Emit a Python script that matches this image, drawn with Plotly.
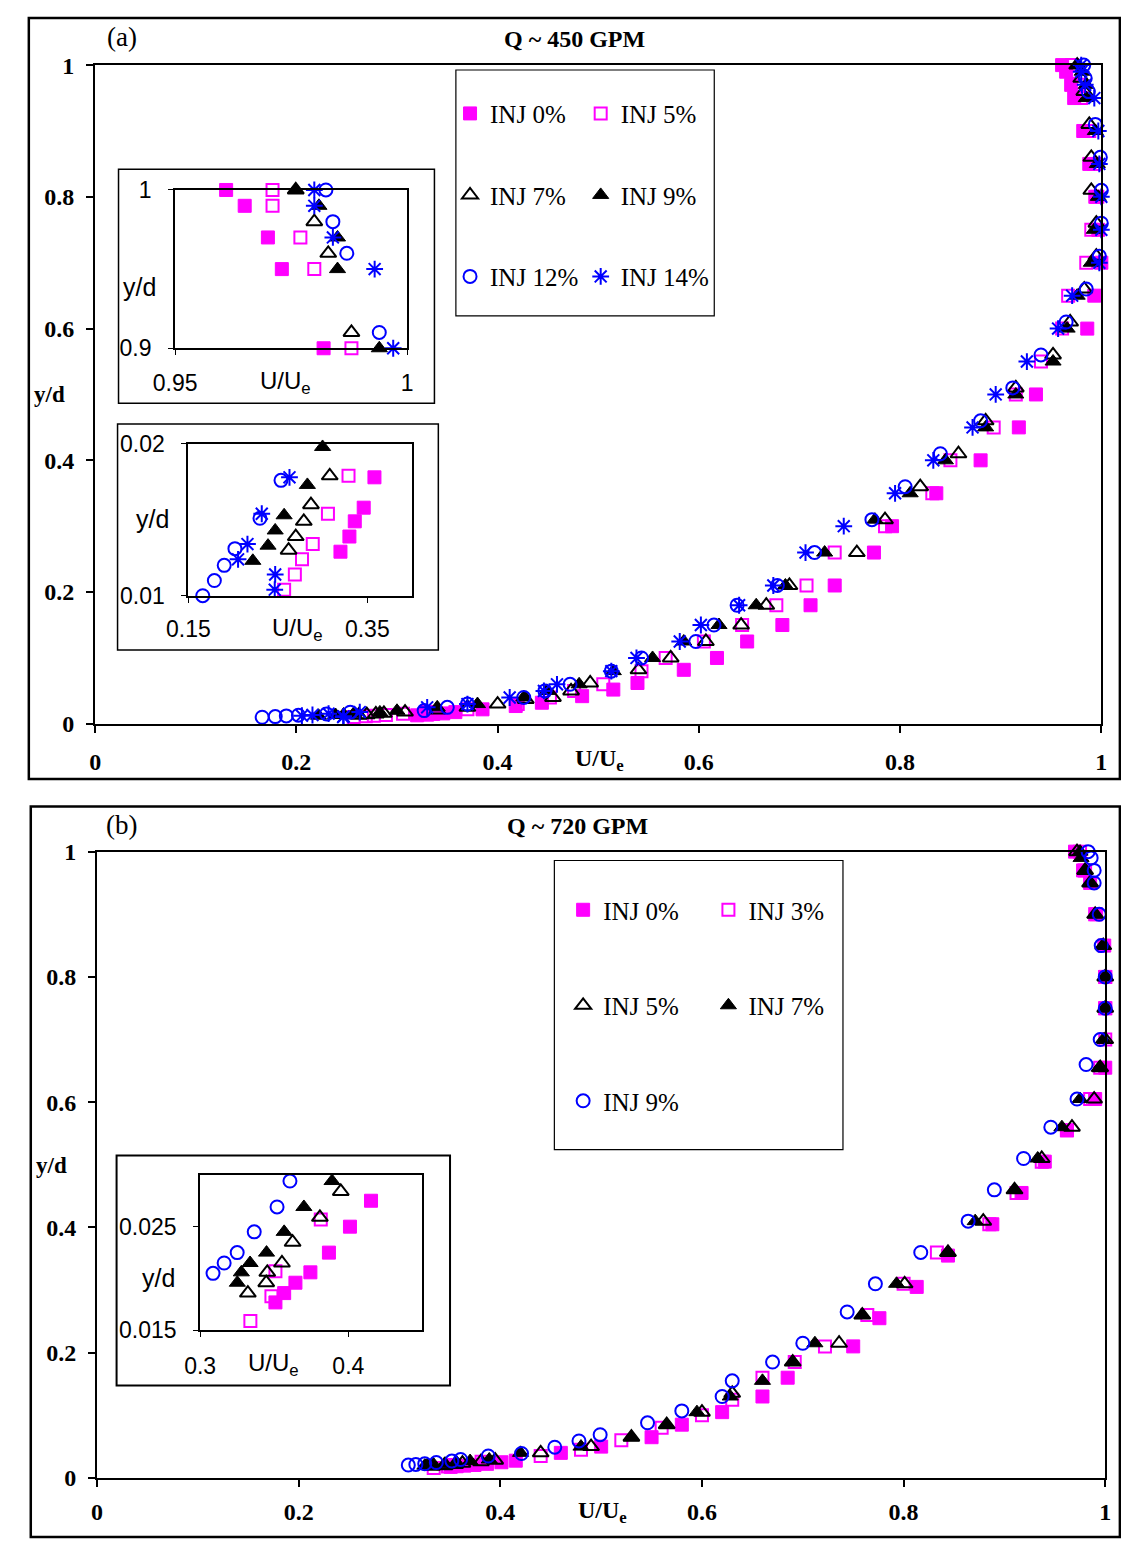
import numpy as np
import plotly.graph_objects as go

W, H = 1121, 1544

# ---------------- Panel (a): Q ~ 450 GPM ----------------
y0a = [1.0, 0.99, 0.97, 0.95, 0.90, 0.85, 0.80, 0.75, 0.70, 0.65, 0.60, 0.50, 0.45, 0.40, 0.35, 0.30,
       0.26, 0.21, 0.18, 0.15, 0.125, 0.10, 0.082, 0.062, 0.052, 0.042, 0.032, 0.027, 0.022,
       0.0178, 0.0158, 0.0149, 0.0139, 0.0129]
u0a = [0.961, 0.965, 0.970, 0.973, 0.982, 0.988, 0.994, 0.997, 1.0, 0.993, 0.986, 0.935, 0.918, 0.880, 0.836, 0.792,
       0.774, 0.735, 0.711, 0.683, 0.648, 0.618, 0.585, 0.539, 0.515, 0.484, 0.444, 0.418, 0.385,
       0.358, 0.346, 0.336, 0.330, 0.320]

y5a = [1.0, 0.99, 0.97, 0.95, 0.90, 0.85, 0.80, 0.75, 0.70, 0.65, 0.60, 0.55, 0.50, 0.45, 0.40, 0.35, 0.30,
       0.26, 0.21, 0.18, 0.15, 0.125, 0.10, 0.08, 0.06, 0.05, 0.04, 0.03, 0.022,
       0.0179, 0.0154, 0.0134, 0.0124, 0.0114, 0.0104]
u5a = [0.971, 0.971, 0.977, 0.980, 0.988, 0.993, 0.996, 0.990, 0.985, 0.967, 0.961, 0.940, 0.915, 0.893, 0.850, 0.832, 0.785,
       0.735, 0.707, 0.677, 0.643, 0.605, 0.567, 0.543, 0.505, 0.476, 0.452, 0.420, 0.370,
       0.329, 0.306, 0.289, 0.277, 0.269, 0.257]

y7a = [1.0, 0.98, 0.96, 0.91, 0.86, 0.81, 0.76, 0.71, 0.66, 0.61, 0.56, 0.51, 0.46, 0.41, 0.36, 0.31,
       0.26, 0.21, 0.18, 0.15, 0.125, 0.10, 0.082, 0.062, 0.05, 0.04, 0.037, 0.03, 0.025, 0.021,
       0.0179, 0.016, 0.0149, 0.0139, 0.013]
u7a = [0.976, 0.980, 0.983, 0.988, 0.990, 0.990, 0.995, 0.995, 0.983, 0.969, 0.952, 0.915, 0.885, 0.858, 0.820, 0.785,
       0.757, 0.690, 0.667, 0.642, 0.607, 0.572, 0.540, 0.492, 0.473, 0.455, 0.428, 0.400, 0.370, 0.340,
       0.308, 0.287, 0.279, 0.270, 0.262]

y9a = [1.0, 0.99, 0.97, 0.95, 0.90, 0.85, 0.80, 0.75, 0.70, 0.65, 0.60, 0.55, 0.50, 0.45, 0.40, 0.35, 0.31,
       0.26, 0.21, 0.18, 0.15, 0.125, 0.10, 0.08, 0.06, 0.05, 0.04, 0.03, 0.025,
       0.0198, 0.0173, 0.0153, 0.0143, 0.0133, 0.0123]
u9a = [0.976, 0.981, 0.985, 0.985, 0.994, 0.996, 0.997, 0.993, 0.990, 0.976, 0.966, 0.952, 0.915, 0.885, 0.845, 0.810, 0.775,
       0.725, 0.686, 0.657, 0.620, 0.585, 0.554, 0.515, 0.481, 0.449, 0.426, 0.380, 0.340,
       0.300, 0.283, 0.257, 0.247, 0.239, 0.222]

y12a = [1.0, 0.98, 0.96, 0.91, 0.86, 0.81, 0.76, 0.71, 0.66, 0.61, 0.56, 0.51, 0.46, 0.41, 0.36, 0.31,
        0.26, 0.21, 0.18, 0.15, 0.125, 0.10, 0.08, 0.06, 0.05, 0.04, 0.03, 0.025,
        0.0201, 0.0176, 0.0151, 0.0131, 0.012, 0.011, 0.010]
u12a = [0.9825, 0.984, 0.987, 0.994, 0.999, 1.0, 1.0, 0.998, 0.985, 0.965, 0.940, 0.912, 0.880, 0.840, 0.805, 0.772,
        0.715, 0.678, 0.638, 0.615, 0.597, 0.543, 0.513, 0.472, 0.447, 0.426, 0.370, 0.350,
        0.327, 0.2535, 0.230, 0.202, 0.190, 0.179, 0.166]

y14a = [1.0, 0.99, 0.97, 0.95, 0.90, 0.85, 0.80, 0.75, 0.70, 0.65, 0.60, 0.55, 0.50, 0.45, 0.40, 0.35, 0.30,
        0.26, 0.21, 0.18, 0.15, 0.125, 0.10, 0.08, 0.06, 0.05, 0.04, 0.03, 0.025,
        0.0178, 0.0154, 0.0134, 0.0124, 0.0114, 0.0104]
u14a = [0.980, 0.980, 0.984, 0.993, 0.997, 0.998, 1.0, 1.0, 0.998, 0.971, 0.957, 0.926, 0.895, 0.872, 0.833, 0.795, 0.744,
        0.706, 0.674, 0.640, 0.602, 0.581, 0.538, 0.513, 0.459, 0.446, 0.412, 0.370, 0.330,
        0.263, 0.232, 0.216, 0.2055, 0.247, 0.2465]

# ---------------- Panel (b): Q ~ 720 GPM ----------------
y0b = [1.0, 0.97, 0.95, 0.90, 0.85, 0.80, 0.75, 0.70, 0.655, 0.605, 0.555, 0.505, 0.455, 0.405, 0.355, 0.305,
       0.255, 0.21, 0.16, 0.13, 0.105, 0.085, 0.065, 0.05, 0.04,
       0.0275, 0.025, 0.0225, 0.0206, 0.0196, 0.0186, 0.0177]
u0b = [0.970, 0.978, 0.985, 0.991, 0.999, 1.0, 1.0, 1.004, 1.0, 0.990, 0.962, 0.940, 0.917, 0.888, 0.844, 0.813,
       0.776, 0.750, 0.685, 0.660, 0.620, 0.580, 0.550, 0.500, 0.460,
       0.4153, 0.4011, 0.3869, 0.3744, 0.3643, 0.3567, 0.3508]

y3b = [1.0, 0.97, 0.90, 0.85, 0.80, 0.75, 0.70, 0.655, 0.605, 0.555, 0.505, 0.455, 0.405, 0.36, 0.31,
       0.26, 0.21, 0.185, 0.16, 0.125, 0.10, 0.08, 0.06, 0.045, 0.035,
       0.0257, 0.0207, 0.0183, 0.0159]
u3b = [0.975, 0.980, 0.990, 1.004, 1.0, 1.0, 1.0, 0.995, 0.985, 0.962, 0.937, 0.912, 0.885, 0.833, 0.800,
       0.764, 0.722, 0.692, 0.660, 0.630, 0.600, 0.560, 0.520, 0.480, 0.440,
       0.3814, 0.3508, 0.3481, 0.3339]

y5b = [1.0, 0.97, 0.95, 0.90, 0.85, 0.80, 0.75, 0.70, 0.655, 0.605, 0.56, 0.51, 0.46, 0.41, 0.36, 0.31,
       0.26, 0.215, 0.185, 0.135, 0.105, 0.085, 0.065, 0.05, 0.04,
       0.0284, 0.0259, 0.0235, 0.0215, 0.0206, 0.0196, 0.0186]
u5b = [0.972, 0.980, 0.985, 0.990, 0.998, 1.0, 1.0, 1.0, 0.995, 0.989, 0.967, 0.937, 0.910, 0.879, 0.844, 0.801,
       0.759, 0.736, 0.690, 0.630, 0.600, 0.565, 0.530, 0.490, 0.440,
       0.3949, 0.3808, 0.3624, 0.3552, 0.3453, 0.3446, 0.3322]

y7b = [1.0, 0.99, 0.97, 0.95, 0.90, 0.85, 0.80, 0.75, 0.70, 0.655, 0.605, 0.56, 0.51, 0.46, 0.41, 0.36, 0.31,
       0.26, 0.215, 0.185, 0.155, 0.13, 0.105, 0.085, 0.065, 0.05, 0.04,
       0.0294, 0.0269, 0.0245, 0.0225, 0.0215, 0.0206, 0.0196]
u7b = [0.975, 0.976, 0.980, 0.985, 0.990, 0.998, 1.0, 1.0, 0.998, 0.994, 0.975, 0.957, 0.933, 0.910, 0.871, 0.844, 0.793,
       0.759, 0.712, 0.690, 0.660, 0.628, 0.595, 0.565, 0.530, 0.480, 0.420,
       0.389, 0.370, 0.3567, 0.3448, 0.3337, 0.3278, 0.3251]

y9b = [1.0, 0.99, 0.97, 0.95, 0.90, 0.85, 0.80, 0.75, 0.70, 0.66, 0.605, 0.56, 0.51, 0.46, 0.41, 0.36, 0.31,
       0.265, 0.215, 0.185, 0.155, 0.13, 0.107, 0.088, 0.069, 0.059, 0.049, 0.039, 0.035,
       0.0294, 0.0269, 0.0245, 0.0225, 0.0215, 0.0205]
u9b = [0.983, 0.986, 0.989, 0.989, 0.994, 0.996, 1.0, 1.0, 0.995, 0.981, 0.972, 0.946, 0.919, 0.890, 0.864, 0.817, 0.772,
       0.744, 0.700, 0.670, 0.630, 0.620, 0.580, 0.546, 0.499, 0.478, 0.454, 0.421, 0.388,
       0.3606, 0.3519, 0.3365, 0.325, 0.3162, 0.3087]

MAG, BLU, BLK = "#FF00FF", "#0000FF", "#000000"

# marker styles: symbol, colour, size
styles = {
    "sq": ("square", MAG, 13),
    "sqo": ("square-open", MAG, 12),
    "tro": ("triangle-up-open", BLK, 14),
    "tr": ("triangle-up", BLK, 14),
    "ci": ("circle-open", BLU, 13),
    "st": ("asterisk-open", BLU, 14),
}

series_a = [
    ("INJ 0%", u0a, y0a, "sq", "legend"),
    ("INJ 5%", u5a, y5a, "sqo", "legend2"),
    ("INJ 7%", u7a, y7a, "tro", "legend"),
    ("INJ 9%", u9a, y9a, "tr", "legend2"),
    ("INJ 12%", u12a, y12a, "ci", "legend"),
    ("INJ 14%", u14a, y14a, "st", "legend2"),
]
series_b = [
    ("INJ 0%", u0b, y0b, "sq", "legend3"),
    ("INJ 3%", u3b, y3b, "sqo", "legend4"),
    ("INJ 5%", u5b, y5b, "tro", "legend3"),
    ("INJ 7%", u7b, y7b, "tr", "legend4"),
    ("INJ 9%", u9b, y9b, "ci", "legend3"),
]


def fx(px):
    return px / W


def fy(py):
    return 1 - py / H


def marker(key):
    sym, col, size = styles[key]
    is_open = sym.endswith("open")
    return dict(symbol=sym, color=col, size=size,
                line=dict(color=col, width=2 if is_open else 1))


fig = go.Figure()


def add_series(series, xa, ya, main=True, xr=None, yr=None):
    for name, u, y, key, leg in series:
        u = np.asarray(u)
        y = np.asarray(y)
        if xr is not None:
            m = (u >= xr[0]) & (u <= xr[1]) & (y >= yr[0]) & (y <= yr[1])
            u, y = u[m], y[m]
        fig.add_trace(go.Scatter(
            x=u, y=y, mode="markers", name=name, marker=marker(key),
            xaxis=xa, yaxis=ya, cliponaxis=False,
            showlegend=main, legend=leg if main else None,
            legendgroup=name + leg if main else None,
        ))


# main plots
add_series(series_a, "x", "y")
add_series(series_b, "x4", "y4")
# zoomed insets (only the points inside each inset's range)
INS_A1 = ([0.95, 1.0], [0.9, 1.0])
INS_A2 = ([0.15, 0.40], [0.01, 0.02])
INS_B = ([0.30, 0.45], [0.015, 0.03])
add_series(series_a, "x2", "y2", False, *INS_A1)
add_series(series_a, "x3", "y3", False, *INS_A2)
add_series(series_b, "x5", "y5", False, *INS_B)

SERIF = "Liberation Serif"
SANS = "Liberation Sans"


def main_axes(xdom, ydom, anchor_x, anchor_y, xstand):
    common = dict(showline=True, linecolor="black", linewidth=2, mirror=True,
                  ticks="outside", ticklen=7, tickwidth=1.5, tickcolor="black",
                  showgrid=False, zeroline=False, range=[0, 1], tick0=0, dtick=0.2,
                  tickfont=dict(family=SERIF, size=24, color="black", weight="bold"))
    xa = dict(common, domain=xdom, anchor=anchor_y, ticklabelstandoff=xstand)
    ya = dict(common, domain=ydom, anchor=anchor_x, ticklabelstandoff=7)
    return xa, ya


def inset_axes(xdom, ydom, xr, yr, xt0, xdt, yt0, ydt, anchor_x, anchor_y, xstand=8):
    common = dict(showline=True, linecolor="black", linewidth=2, mirror=True,
                  ticks="outside", ticklen=5, tickwidth=1, tickcolor="black",
                  showgrid=False, zeroline=False,
                  tickfont=dict(family=SANS, size=23, color="black"))
    xa = dict(common, domain=xdom, anchor=anchor_y, range=xr, tick0=xt0, dtick=xdt,
              ticklabelstandoff=xstand)
    ya = dict(common, domain=ydom, anchor=anchor_x, range=yr, tick0=yt0, dtick=ydt,
              ticklabelstandoff=12)
    return xa, ya


xa1, ya1 = main_axes([fx(75), fx(1107)], [fy(723), fy(53)], "x", "y", 8)
xa4, ya4 = main_axes([fx(77), fx(1111)], [fy(1490), fy(853)], "x4", "y4", 4)
xa2, ya2 = inset_axes([fx(157), fx(395)], [fy(341), fy(180)], *INS_A1, 0.95, 0.05, 0.9, 0.1, "x2", "y2", 8)
xa3, ya3 = inset_axes([fx(170.7), fx(400)], [fy(592.7), fy(438.3)], *INS_A2, 0.15, 0.2, 0.01, 0.01, "x3", "y3", 7)
xa5, ya5 = inset_axes([fx(182.7), fx(410.7)], [fy(1340), fy(1181.7)], *INS_B, 0.3, 0.1, 0.015, 0.01, "x5", "y5", 9)

fig.update_layout(
    xaxis=xa1, yaxis=ya1, xaxis2=xa2, yaxis2=ya2, xaxis3=xa3, yaxis3=ya3,
    xaxis4=xa4, yaxis4=ya4, xaxis5=xa5, yaxis5=ya5,
)


# panel frames, inset boxes and legend boxes
def rect(x0, y0, x1, y1, w=2, col="black"):
    fig.add_shape(type="rect", xref="paper", yref="paper",
                  x0=fx(x0), x1=fx(x1), y0=fy(y1), y1=fy(y0),
                  line=dict(color=col, width=w), fillcolor="rgba(0,0,0,0)", layer="above")

rect(7, 5, 1126, 779, 2.5)
rect(9, 807, 1126, 1550, 2.5)
rect(99, 159, 423, 397, 1.5)
rect(98, 418, 427, 648, 1.5)
rect(445, 58, 710, 308, 1.2)
rect(97, 1162, 439, 1396, 2)
rect(546, 862, 842, 1156, 1.2)


def text(px, py, s, font, size, bold=False, xanchor="center"):
    fig.add_annotation(x=fx(px), y=fy(py), xref="paper", yref="paper", text=s,
                       showarrow=False, xanchor=xanchor, yanchor="middle",
                       font=dict(family=font, size=size, color="black",
                                 weight="bold" if bold else "normal"))

text(103, 24, "(a)", SERIF, 27)
text(567, 26, "Q ~ 450 GPM", SERIF, 24, True)
text(28, 388, "y/d", SERIF, 23, True)
text(592, 760, "U/U<sub>e</sub>", SERIF, 24, True)
text(102, 826, "(b)", SERIF, 27)
text(570, 827, "Q ~ 720 GPM", SERIF, 24, True)
text(30, 1172, "y/d", SERIF, 23, True)
text(595, 1525, "U/U<sub>e</sub>", SERIF, 24, True)

text(120, 279, "y/d", SANS, 25)
text(270, 376, "U/U<sub>e</sub>", SANS, 24)
text(134, 515, "y/d", SANS, 25)
text(283, 627, "U/U<sub>e</sub>", SANS, 24)
text(140, 1287, "y/d", SANS, 25)
text(258, 1375, "U/U<sub>e</sub>", SANS, 24)

leg_common = dict(bgcolor="rgba(0,0,0,0)", borderwidth=0, xanchor="left", yanchor="top",
                  font=dict(family=SERIF, size=25, color="black"), tracegroupgap=46,
                  itemclick=False)
fig.update_layout(
    legend=dict(leg_common, x=fx(439), y=fy(79)),
    legend2=dict(leg_common, x=fx(573), y=fy(79)),
    legend3=dict(leg_common, x=fx(555), y=fy(889), tracegroupgap=60),
    legend4=dict(leg_common, x=fx(704), y=fy(889), tracegroupgap=60),
)

fig.update_layout(width=W, height=H, margin=dict(l=0, r=0, t=0, b=0),
                  paper_bgcolor="white", plot_bgcolor="rgba(0,0,0,0)",
                  showlegend=True)

fig.write_html("out.html")
